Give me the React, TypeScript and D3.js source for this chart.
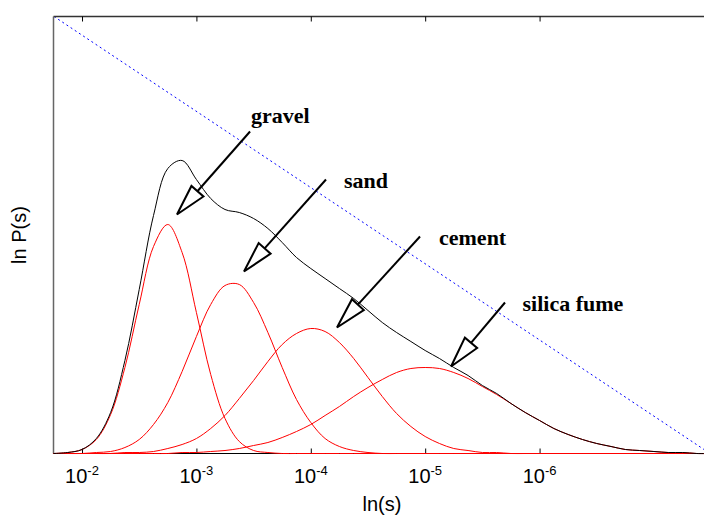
import React, { useEffect, useRef } from "react";
import * as d3 from "d3";

// particle size s = 10^-n, sampled every 1/8 decade (n values)
const sizeExp = [
  1.75, 1.875, 2, 2.125, 2.25, 2.375, 2.5, 2.625, 2.75, 2.875, 3, 3.125, 3.25,
  3.375, 3.5, 3.625, 3.75, 3.875, 4, 4.125, 4.25, 4.375, 4.5, 4.625, 4.75,
  4.875, 5, 5.125, 5.25, 5.375, 5.5, 5.625, 5.75, 5.875, 6, 6.125, 6.25, 6.375,
  6.5, 6.625, 6.75, 6.875, 7, 7.125, 7.25, 7.375, 7.5,
];

// ln P(s) for each component (arbitrary units)
const gravel = [
  0, 0.01, 0.04, 0.14, 0.39, 0.86, 1.49, 2.07, 2.29, 2.01, 1.41, 0.79, 0.35,
  0.12, 0.03, 0.01, 0, 0, 0, 0, 0, 0, 0, 0, 0, 0, 0, 0, 0, 0, 0, 0, 0, 0, 0, 0,
  0, 0, 0, 0, 0, 0, 0, 0, 0, 0, 0,
];
const sand = [
  0, 0, 0, 0.01, 0.02, 0.06, 0.14, 0.29, 0.51, 0.82, 1.17, 1.49, 1.68, 1.69,
  1.51, 1.21, 0.86, 0.54, 0.31, 0.15, 0.07, 0.03, 0.01, 0, 0, 0, 0, 0, 0, 0, 0,
  0, 0, 0, 0, 0, 0, 0, 0, 0, 0, 0, 0, 0, 0, 0, 0,
];
const cement = [
  0, 0, 0, 0, 0, 0.01, 0.01, 0.02, 0.05, 0.09, 0.15, 0.25, 0.38, 0.55, 0.73,
  0.92, 1.09, 1.2, 1.25, 1.22, 1.11, 0.95, 0.76, 0.57, 0.4, 0.27, 0.17, 0.1,
  0.05, 0.03, 0.01, 0.01, 0, 0, 0, 0, 0, 0, 0, 0, 0, 0, 0, 0, 0, 0, 0,
];
const silicaFume = [
  0, 0, 0, 0, 0, 0, 0, 0, 0, 0.01, 0.01, 0.02, 0.03, 0.05, 0.08, 0.11, 0.16,
  0.22, 0.29, 0.38, 0.47, 0.57, 0.66, 0.74, 0.81, 0.85, 0.86, 0.85, 0.81, 0.75,
  0.67, 0.59, 0.5, 0.41, 0.33, 0.25, 0.19, 0.14, 0.1, 0.07, 0.04, 0.03, 0.02,
  0.01, 0.01, 0, 0,
];

const tickExp = [2, 3, 4, 5, 6];

// labels, text anchor and arrow tail / tip, in data units [n, ln P]
const labelNames = ["gravel", "sand", "cement", "silica fume"];
const labelPos = [
  [3.477, 3.31],
  [4.29, 2.66],
  [5.121, 2.09],
  [5.851, 1.43],
];
const arrowTail = [
  [3.469, 3.22],
  [4.133, 2.74],
  [4.955, 2.17],
  [5.698, 1.51],
];
const arrowTip = [
  [2.83, 2.39],
  [3.416, 1.82],
  [4.229, 1.26],
  [5.226, 0.87],
];

const App = () => {
  const svgRef = useRef<SVGSVGElement>(null);

  useEffect(() => {
    const left = 54,
      right = 710,
      top = 16.5,
      bottom = 453.5;

    const x = d3
      .scaleLog()
      .domain([Math.pow(10, -1.755), Math.pow(10, -7.49)])
      .range([left, right]);
    const y = d3.scaleLinear().domain([0, 4.37]).range([bottom, top]);
    const sx = (n: number) => x(Math.pow(10, -n));

    const svg = d3.select(svgRef.current);
    svg.selectAll("*").remove();

    // blue dotted diagonal, corner to corner
    svg
      .append("line")
      .attr("x1", x(x.domain()[0]))
      .attr("y1", y(4.37))
      .attr("x2", x(x.domain()[1]))
      .attr("y2", y(0))
      .attr("stroke", "#0000ff")
      .attr("stroke-width", 1)
      .attr("stroke-dasharray", "2,3");

    // axes box
    svg
      .append("line")
      .attr("x1", left - 0.5)
      .attr("x2", 704)
      .attr("y1", top)
      .attr("y2", top)
      .attr("stroke", "#333")
      .attr("stroke-width", 1.5);
    svg
      .append("line")
      .attr("x1", left - 0.5)
      .attr("x2", left - 0.5)
      .attr("y1", top)
      .attr("y2", bottom)
      .attr("stroke", "#666")
      .attr("stroke-width", 1.5);
    svg
      .append("line")
      .attr("x1", left - 0.5)
      .attr("x2", 704)
      .attr("y1", bottom)
      .attr("y2", bottom)
      .attr("stroke", "#000")
      .attr("stroke-width", 1.2);

    const tickVals = tickExp.map((n) => Math.pow(10, -n));
    const gb = svg
      .append("g")
      .attr("transform", `translate(0,${bottom})`)
      .call(
        d3
          .axisBottom(x)
          .tickValues(tickVals)
          .tickSizeInner(-5)
          .tickSizeOuter(0)
          .tickFormat(() => "")
      );
    gb.select(".domain").remove();
    gb.selectAll(".tick line").attr("stroke", "#000");
    const gt = svg
      .append("g")
      .attr("transform", `translate(0,${top})`)
      .call(
        d3
          .axisTop(x)
          .tickValues(tickVals)
          .tickSizeInner(-5)
          .tickSizeOuter(0)
          .tickFormat(() => "")
      );
    gt.select(".domain").remove();
    gt.selectAll(".tick line").attr("stroke", "#000");

    // curves
    const line = d3
      .line<number>()
      .x((_, i) => sx(sizeExp[i]))
      .y((d) => y(Math.max(0, d)))
      .curve(d3.curveCatmullRom.alpha(0.5));

    [gravel, sand, cement, silicaFume].forEach((c) => {
      svg
        .append("path")
        .attr("d", line(c))
        .attr("fill", "none")
        .attr("stroke", "#ff0000")
        .attr("stroke-width", 1);
    });
    const total = sizeExp.map(
      (_, i) => gravel[i] + sand[i] + cement[i] + silicaFume[i]
    );
    svg
      .append("path")
      .attr("d", line(total))
      .attr("fill", "none")
      .attr("stroke", "#000")
      .attr("stroke-width", 1);

    // tick labels 10^-n
    tickExp.forEach((n) => {
      const t = svg
        .append("text")
        .attr("x", sx(n))
        .attr("y", 483)
        .attr("text-anchor", "middle")
        .attr("font-family", "'Liberation Sans', Arial, sans-serif")
        .attr("font-size", 20)
        .attr("fill", "#000");
      t.append("tspan").text("10");
      t.append("tspan")
        .attr("dy", -8.5)
        .attr("font-size", 13)
        .text("-" + n);
    });

    svg
      .append("text")
      .attr("x", (left + right) / 2)
      .attr("y", 511)
      .attr("text-anchor", "middle")
      .attr("font-family", "'Liberation Sans', Arial, sans-serif")
      .attr("font-size", 20)
      .text("ln(s)");
    svg
      .append("text")
      .attr("transform", `translate(26,${(top + bottom) / 2}) rotate(-90)`)
      .attr("text-anchor", "middle")
      .attr("font-family", "'Liberation Sans', Arial, sans-serif")
      .attr("font-size", 20)
      .text("ln P(s)");

    // annotation arrows with open triangle heads
    const headLen = 31,
      headHalf = 8;
    labelNames.forEach((name, i) => {
      const tx = sx(arrowTail[i][0]),
        ty = y(arrowTail[i][1]);
      const hx = sx(arrowTip[i][0]),
        hy = y(arrowTip[i][1]);
      const len = Math.hypot(tx - hx, ty - hy);
      const ux = (tx - hx) / len,
        uy = (ty - hy) / len;
      const bx = hx + ux * headLen,
        by = hy + uy * headLen;
      svg
        .append("line")
        .attr("x1", tx)
        .attr("y1", ty)
        .attr("x2", bx)
        .attr("y2", by)
        .attr("stroke", "#000")
        .attr("stroke-width", 2);
      const pts = [
        [hx, hy],
        [bx - uy * headHalf, by + ux * headHalf],
        [bx + uy * headHalf, by - ux * headHalf],
      ];
      svg
        .append("polygon")
        .attr("points", pts.map((p) => p.join(",")).join(" "))
        .attr("fill", "#fff")
        .attr("stroke", "#000")
        .attr("stroke-width", 2);
      svg
        .append("text")
        .attr("x", sx(labelPos[i][0]))
        .attr("y", y(labelPos[i][1]))
        .attr("font-family", "'Liberation Serif', 'Times New Roman', serif")
        .attr("font-weight", "bold")
        .attr("font-size", 22)
        .attr("fill", "#000")
        .text(name);
    });
  }, []);

  return (
    <svg
      ref={svgRef}
      width={704}
      height={516}
      style={{ position: "absolute", left: 0, top: 0, background: "#fff" }}
    />
  );
};

export default App;
